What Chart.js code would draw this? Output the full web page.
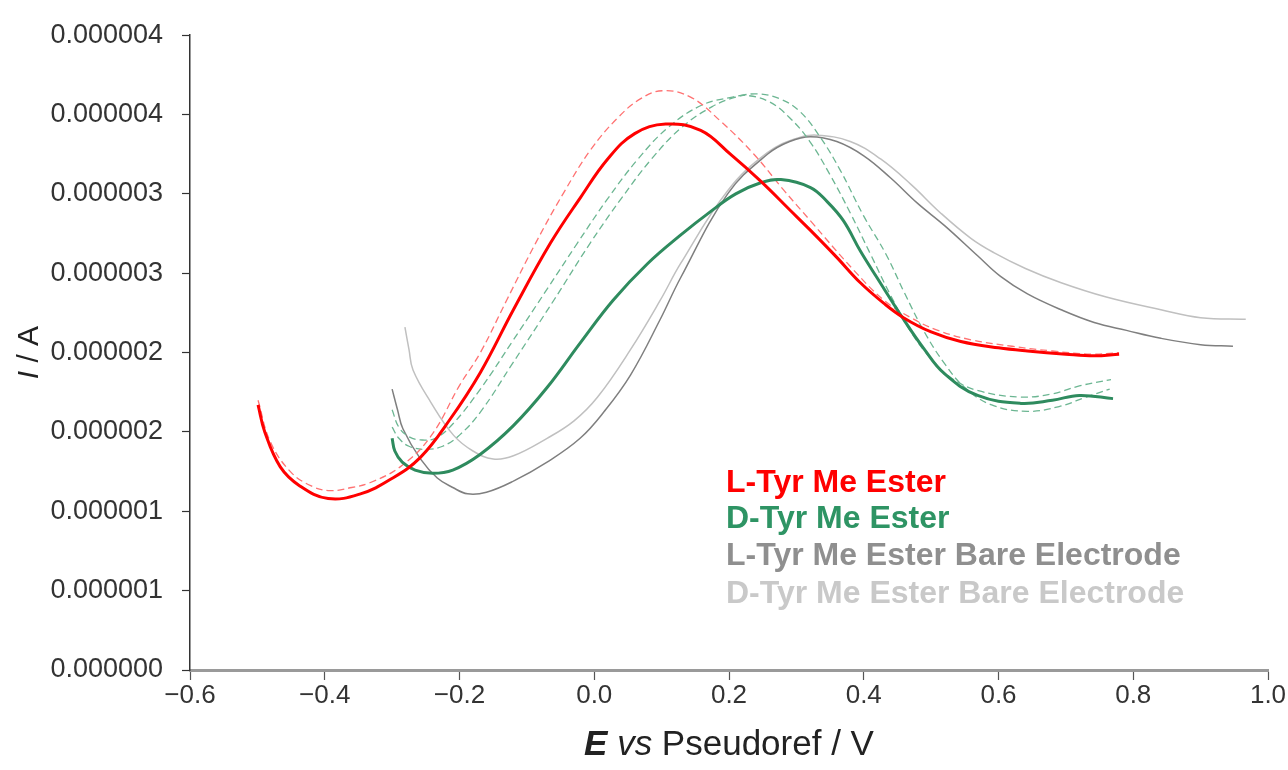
<!DOCTYPE html>
<html lang="en">
<head>
  <meta charset="UTF-8">
  <title>Tyr Me Ester voltammograms</title>
  <script src="https://cdn.jsdelivr.net/npm/chart.js"></script>
  <style>
    body { margin: 0; background: #fff; }
    #wrap { width: 1288px; height: 770px; }
  </style>
</head>
<body>
  <div id="wrap"><canvas id="cv" width="1288" height="770"></canvas></div>

  <script>
    // potentials (V) and currents (µA)
    const lTyrE = [-0.499, -0.489, -0.466, -0.437, -0.395, -0.347, -0.303, -0.258, -0.214, -0.169, -0.120, -0.065, -0.020, 0.020, 0.060, 0.106, 0.158, 0.202, 0.247, 0.290, 0.321, 0.360, 0.395, 0.430, 0.459, 0.500, 0.544, 0.600, 0.643, 0.700, 0.742, 0.779];
    const lTyrI = [1.67, 1.50, 1.28, 1.16, 1.08, 1.11, 1.20, 1.34, 1.58, 1.875, 2.27, 2.69, 2.98, 3.22, 3.38, 3.44, 3.40, 3.25, 3.08, 2.90, 2.77, 2.60, 2.44, 2.31, 2.22, 2.13, 2.07, 2.03, 2.01, 1.99, 1.98, 1.99];

    const lTyr2E = [-0.499, -0.481, -0.451, -0.420, -0.392, -0.360, -0.333, -0.288, -0.243, -0.199, -0.169, -0.130, -0.087, -0.045, -0.005, 0.035, 0.069, 0.101, 0.143, 0.187, 0.237, 0.280, 0.321, 0.385, 0.430, 0.470, 0.510, 0.560, 0.620, 0.680, 0.740, 0.779];
    const lTyr2I = [1.70, 1.44, 1.25, 1.16, 1.13, 1.15, 1.18, 1.28, 1.47, 1.80, 2.00, 2.33, 2.69, 3.01, 3.28, 3.48, 3.60, 3.65, 3.61, 3.46, 3.25, 3.03, 2.83, 2.52, 2.33, 2.22, 2.14, 2.08, 2.04, 2.01, 1.99, 2.00];

    const dTyrE = [-0.300, -0.296, -0.285, -0.266, -0.240, -0.210, -0.169, -0.120, -0.070, -0.021, 0.028, 0.079, 0.128, 0.173, 0.210, 0.247, 0.277, 0.321, 0.346, 0.370, 0.395, 0.420, 0.459, 0.490, 0.519, 0.569, 0.633, 0.680, 0.720, 0.770];
    const dTyrI = [1.46, 1.38, 1.31, 1.26, 1.24, 1.26, 1.36, 1.54, 1.78, 2.06, 2.33, 2.56, 2.74, 2.89, 3.00, 3.07, 3.09, 3.04, 2.95, 2.83, 2.64, 2.47, 2.21, 2.02, 1.87, 1.73, 1.68, 1.70, 1.73, 1.71];

    const dTyr2E = [-0.300, -0.290, -0.275, -0.258, -0.236, -0.210, -0.169, -0.120, -0.070, -0.025, 0.020, 0.065, 0.110, 0.160, 0.205, 0.227, 0.260, 0.290, 0.320, 0.350, 0.380, 0.410, 0.440, 0.470, 0.500, 0.530, 0.570, 0.633, 0.680, 0.720, 0.767];
    const dTyr2I = [1.64, 1.53, 1.47, 1.45, 1.46, 1.55, 1.77, 2.08, 2.40, 2.69, 2.97, 3.22, 3.42, 3.56, 3.61, 3.62, 3.58, 3.48, 3.33, 3.12, 2.88, 2.62, 2.36, 2.13, 1.96, 1.84, 1.76, 1.72, 1.74, 1.79, 1.83];

    const dTyr3E = [-0.300, -0.290, -0.275, -0.250, -0.225, -0.200, -0.169, -0.120, -0.060, -0.006, 0.040, 0.085, 0.130, 0.175, 0.210, 0.242, 0.275, 0.305, 0.335, 0.365, 0.400, 0.433, 0.460, 0.490, 0.520, 0.550, 0.590, 0.643, 0.690, 0.730, 0.765];
    const dTyr3I = [1.53, 1.46, 1.41, 1.39, 1.41, 1.48, 1.625, 1.94, 2.33, 2.69, 2.97, 3.22, 3.42, 3.55, 3.61, 3.63, 3.60, 3.52, 3.36, 3.15, 2.86, 2.62, 2.38, 2.13, 1.93, 1.78, 1.67, 1.63, 1.66, 1.72, 1.77];

    const lBareE = [-0.300, -0.292, -0.284, -0.258, -0.233, -0.210, -0.188, -0.160, -0.120, -0.070, -0.021, 0.015, 0.054, 0.098, 0.128, 0.198, 0.257, 0.290, 0.321, 0.360, 0.400, 0.440, 0.480, 0.520, 0.569, 0.603, 0.643, 0.693, 0.742, 0.790, 0.841, 0.900, 0.948];
    const lBareI = [1.77, 1.64, 1.52, 1.33, 1.21, 1.15, 1.11, 1.12, 1.19, 1.31, 1.46, 1.63, 1.86, 2.21, 2.47, 3.00, 3.25, 3.33, 3.36, 3.33, 3.24, 3.10, 2.94, 2.80, 2.61, 2.48, 2.37, 2.27, 2.19, 2.14, 2.09, 2.05, 2.04];

    const dBareE = [-0.281, -0.275, -0.269, -0.243, -0.209, -0.180, -0.150, -0.120, -0.070, -0.030, 0.005, 0.054, 0.098, 0.128, 0.198, 0.257, 0.300, 0.330, 0.380, 0.425, 0.470, 0.514, 0.559, 0.593, 0.640, 0.693, 0.760, 0.841, 0.900, 0.967];
    const dBareI = [2.16, 2.02, 1.89, 1.69, 1.48, 1.38, 1.33, 1.35, 1.46, 1.57, 1.72, 2.02, 2.33, 2.56, 3.02, 3.26, 3.35, 3.37, 3.33, 3.22, 3.06, 2.88, 2.72, 2.63, 2.53, 2.44, 2.35, 2.27, 2.22, 2.21];

    const xTickValues = [-0.6, -0.4, -0.2, 0.0, 0.2, 0.4, 0.6, 0.8, 1.0];
    const xTickLabels = ['\u22120.6', '\u22120.4', '\u22120.2', '0.0', '0.2', '0.4', '0.6', '0.8', '1.0'];
    const yTickValues = [0, 0.5e-6, 1.0e-6, 1.5e-6, 2.0e-6, 2.5e-6, 3.0e-6, 3.5e-6, 4.0e-6];
    const yTickLabels = ['0.000000', '0.000001', '0.000001', '0.000002', '0.000002', '0.000003', '0.000003', '0.000004', '0.000004'];

    const legendLabels = ['L-Tyr Me Ester', 'D-Tyr Me Ester', 'L-Tyr Me Ester Bare Electrode', 'D-Tyr Me Ester Bare Electrode'];
    const legendColors = ['#ff0000', '#2e9464', '#8f8f8f', '#c9c9c9'];

    const pts = (E, I) => E.map((x, i) => ({ x: x, y: I[i] * 1e-6 }));

    function line(E, I, color, width, dash) {
      return {
        data: pts(E, I),
        borderColor: color,
        borderWidth: width,
        borderDash: dash || [],
        showLine: true,
        pointRadius: 0,
        tension: 0.4,
        fill: false
      };
    }

    // titles with mixed italic/bold and the text legend
    const textPlugin = {
      id: 'texts',
      afterDraw(chart) {
        const ctx = chart.ctx;
        const a = chart.chartArea;
        const fam = "'Liberation Sans', Arial, sans-serif";

        function runs(parts, cx, cy) {
          let w = 0;
          parts.forEach(p => { ctx.font = p[1] + ' ' + fam; w += ctx.measureText(p[0]).width; });
          let x = cx - w / 2;
          parts.forEach(p => {
            ctx.font = p[1] + ' ' + fam;
            ctx.fillText(p[0], x, cy);
            x += ctx.measureText(p[0]).width;
          });
        }

        ctx.save();
        ctx.fillStyle = '#222';
        ctx.textBaseline = 'middle';
        ctx.textAlign = 'left';
        runs([['E', 'italic bold 35px'], [' ', '35px'], ['vs', 'italic 35px'], [' Pseudoref / V', '35px']],
          (a.left + a.right) / 2, 745);

        ctx.translate(30, (a.top + a.bottom) / 2);
        ctx.rotate(-Math.PI / 2);
        runs([['I', 'italic 30px'], [' / A', '30px']], 0, 0);
        ctx.restore();

        ctx.save();
        ctx.textBaseline = 'middle';
        ctx.textAlign = 'left';
        ctx.font = "bold 32px " + fam;
        const lineY = [448, 484, 521, 559];
        legendLabels.forEach((t, i) => {
          ctx.fillStyle = legendColors[i];
          ctx.fillText(t, a.left + 536, a.top + lineY[i]);
        });
        ctx.restore();
      }
    };

    const ctx = document.getElementById('cv').getContext('2d');

    new Chart(ctx, {
      type: 'scatter',
      data: {
        datasets: [
          line(lTyrE, lTyrI, '#ff0000', 3),
          line(dTyrE, dTyrI, '#2e8b5e', 3),
          line(lTyr2E, lTyr2I, '#ff7272', 1.3, [7, 4]),
          line(dTyr2E, dTyr2I, '#6cb692', 1.3, [7, 4]),
          line(dTyr3E, dTyr3I, '#6cb692', 1.3, [7, 4]),
          line(lBareE, lBareI, '#7f7f7f', 1.5),
          line(dBareE, dBareI, '#c0c0c0', 1.5)
        ]
      },
      options: {
        responsive: false,
        animation: false,
        layout: { padding: { left: 0, right: 20, top: 30, bottom: 0 } },
        plugins: {
          legend: { display: false },
          tooltip: { enabled: false }
        },
        scales: {
          x: {
            type: 'linear',
            min: -0.6,
            max: 1.0,
            afterFit(s) { s.height = 100; },
            afterBuildTicks(s) { s.ticks = xTickValues.map(v => ({ value: v })); },
            border: { display: true, color: '#9a9a9a', width: 3 },
            grid: { display: true, drawOnChartArea: false, drawTicks: true, tickLength: 10, tickColor: '#555', tickWidth: 1.2 },
            ticks: {
              padding: 0,
              color: '#333',
              font: { family: "'Liberation Sans', Arial, sans-serif", size: 26 },
              maxRotation: 0,
              autoSkip: false,
              callback: (v, i) => xTickLabels[i]
            }
          },
          y: {
            type: 'linear',
            min: 0,
            max: 4e-6,
            afterFit(s) { s.width = 190; },
            afterBuildTicks(s) { s.ticks = yTickValues.map(v => ({ value: v })); },
            border: { display: true, color: '#333', width: 1.5 },
            grid: { display: true, drawOnChartArea: false, drawTicks: true, tickLength: 8, tickColor: '#333', tickWidth: 1.2 },
            ticks: {
              padding: 19,
              color: '#333',
              font: { family: "'Liberation Sans', Arial, sans-serif", size: 27 },
              autoSkip: false,
              callback: (v, i) => yTickLabels[i]
            }
          }
        }
      },
      plugins: [textPlugin]
    });
  </script>
</body>
</html>
